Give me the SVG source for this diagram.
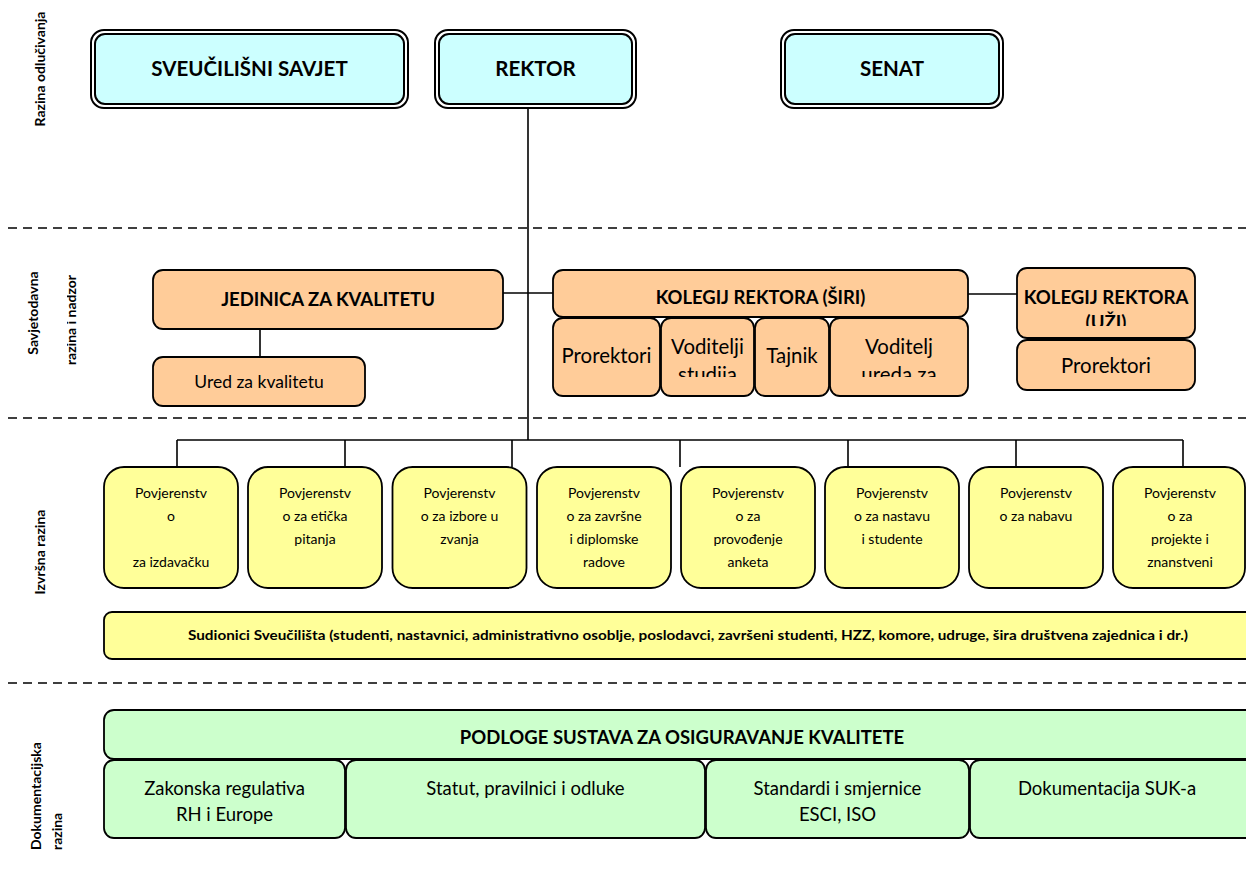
<svg xmlns="http://www.w3.org/2000/svg" width="1246" height="871" viewBox="0 0 1246 871">
  <style>
    .t { font-family: Lato, "Liberation Sans", sans-serif; fill: #000; text-anchor: middle; }
    .b { font-weight: bold; }
    .lbl { font-family: Lato, "Liberation Sans", sans-serif; font-weight: bold; font-size: 14px; fill: #000; }
    .box { stroke: #000; stroke-width: 1.8; }
    .cyan { fill: #CCFFFF; }
    .orange { fill: #FFCC99; }
    .yellow { fill: #FFFF99; }
    .green { fill: #CCFFCC; }
    .line { stroke: #000; stroke-width: 1.6; fill: none; }
    .dash { stroke: #000; stroke-width: 1.6; stroke-dasharray: 9 6; fill: none; }
  </style>
  <defs>
    <clipPath id="clipUzi"><rect x="1017" y="268" width="178" height="58"/></clipPath>
    <clipPath id="clipSub"><rect x="553" y="318" width="415" height="59"/></clipPath>
    <clipPath id="clipNadzor"><rect x="67" y="240" width="40" height="170"/></clipPath>
  </defs>
  <rect width="1246" height="871" fill="#fff"/>

  <!-- level separators -->
  <g id="separators">
    <line class="dash" x1="8" y1="228" x2="1246" y2="228"/>
    <line class="dash" x1="8" y1="418" x2="1246" y2="418"/>
    <line class="dash" x1="8" y1="683" x2="1246" y2="683"/>
  </g>

  <!-- level captions -->
  <g id="level-labels">
    <text class="lbl" text-anchor="middle" transform="translate(45,69) rotate(-90)">Razina odlučivanja</text>
    <text class="lbl" text-anchor="middle" transform="translate(38,313) rotate(-90)" font-size="15">Savjetodavna</text>
    <g clip-path="url(#clipNadzor)">
      <text class="lbl" text-anchor="middle" transform="translate(75.5,320) rotate(-90)" font-size="15">razina  i nadzor</text>
    </g>
    <text class="lbl" text-anchor="middle" transform="translate(45,552) rotate(-90)">Izvršna razina</text>
    <text class="lbl" transform="translate(41,850) rotate(-90)">Dokumentacijska</text>
    <text class="lbl" transform="translate(61.5,850) rotate(-90)">razina</text>
  </g>

  <!-- connectors -->
  <g id="connectors">
    <line class="line" x1="528" y1="108" x2="528" y2="440"/>
    <line class="line" x1="503" y1="293" x2="553" y2="293"/>
    <line class="line" x1="968" y1="294" x2="1017" y2="294"/>
    <line class="line" x1="260" y1="329" x2="260" y2="357"/>
    <line class="line" x1="177" y1="440" x2="1183" y2="440"/>
    <line class="line" x1="177" y1="440" x2="177" y2="467"/>
    <line class="line" x1="345" y1="440" x2="345" y2="467"/>
    <line class="line" x1="512" y1="440" x2="512" y2="467"/>
    <line class="line" x1="680" y1="440" x2="680" y2="467"/>
    <line class="line" x1="848" y1="440" x2="848" y2="467"/>
    <line class="line" x1="1016" y1="440" x2="1016" y2="467"/>
    <line class="line" x1="1183" y1="440" x2="1183" y2="467"/>
  </g>

  <!-- decision level -->
  <g id="sveucilisni-savjet">
    <rect x="91" y="30" width="317" height="78" rx="13" fill="#fff" stroke="#000" stroke-width="2"/>
    <rect class="cyan" x="95" y="34" width="309" height="70" rx="10" stroke="#000" stroke-width="2"/>
    <text class="t b" x="249.5" y="75.5" font-size="20.5">SVEUČILIŠNI SAVJET</text>
  </g>
  <g id="rektor">
    <rect x="435" y="30" width="201" height="78" rx="13" fill="#fff" stroke="#000" stroke-width="2"/>
    <rect class="cyan" x="439" y="34" width="193" height="70" rx="10" stroke="#000" stroke-width="2"/>
    <text class="t b" x="535.5" y="75.5" font-size="20.5">REKTOR</text>
  </g>
  <g id="senat">
    <rect x="781" y="30" width="222" height="78" rx="13" fill="#fff" stroke="#000" stroke-width="2"/>
    <rect class="cyan" x="785" y="34" width="214" height="70" rx="10" stroke="#000" stroke-width="2"/>
    <text class="t b" x="892" y="75.5" font-size="20.5">SENAT</text>
  </g>

  <!-- advisory level -->
  <g id="jedinica">
    <rect class="box orange" x="153" y="270" width="350" height="59" rx="10"/>
    <text class="t b" x="328" y="305.5" font-size="18.5">JEDINICA ZA KVALITETU</text>
  </g>
  <g id="ured">
    <rect class="box orange" x="153" y="357" width="212" height="49" rx="10"/>
    <text class="t" x="259" y="388" font-size="17.5">Ured za kvalitetu</text>
  </g>
  <g id="kolegij-siri">
    <rect class="box orange" x="553" y="270" width="415" height="47" rx="10"/>
    <text class="t b" x="760.5" y="303.5" font-size="18.4">KOLEGIJ REKTORA (ŠIRI)</text>
  </g>
  <g id="kolegij-siri-clanovi">
    <rect class="box orange" x="553" y="318" width="107" height="78" rx="10"/>
    <rect class="box orange" x="661" y="318" width="93" height="78" rx="10"/>
    <rect class="box orange" x="755" y="318" width="74" height="78" rx="10"/>
    <rect class="box orange" x="830" y="318" width="138" height="78" rx="10"/>
    <text class="t" x="606.5" y="363" font-size="20.4">Prorektori</text>
    <text class="t" x="792" y="363" font-size="20.4">Tajnik</text>
    <g clip-path="url(#clipSub)">
      <text class="t" x="707.5" y="354" font-size="20.4">Voditelji</text>
      <text class="t" x="707.5" y="382" font-size="20.4">studija</text>
      <text class="t" x="899" y="354" font-size="20.4">Voditelj</text>
      <text class="t" x="899" y="382" font-size="20.4">ureda za</text>
    </g>
  </g>
  <g id="kolegij-uzi">
    <rect class="box orange" x="1017" y="268" width="178" height="70" rx="10"/>
    <g clip-path="url(#clipUzi)">
      <text class="t b" x="1106" y="304" font-size="18.6">KOLEGIJ REKTORA</text>
      <text class="t b" x="1106" y="328.5" font-size="18.6">(UŽI)</text>
    </g>
  </g>
  <g id="kolegij-uzi-prorektori">
    <rect class="box orange" x="1017" y="340" width="178" height="50" rx="10"/>
    <text class="t" x="1106" y="372.5" font-size="20.4">Prorektori</text>
  </g>

  <!-- executive level -->
  <g id="povjerenstvo-izdavacka">
    <rect class="box yellow" x="104" y="467" width="134" height="121" rx="20"/>
    <text class="t" font-size="14"><tspan x="171" y="498">Povjerenstv</tspan><tspan x="171" y="521">o</tspan><tspan x="171" y="567">za izdavačku</tspan></text>
  </g>
  <g id="povjerenstvo-eticka">
    <rect class="box yellow" x="248" y="467" width="134" height="121" rx="20"/>
    <text class="t" font-size="14"><tspan x="315" y="498">Povjerenstv</tspan><tspan x="315" y="521">o za etička</tspan><tspan x="315" y="544">pitanja</tspan></text>
  </g>
  <g id="povjerenstvo-izbori">
    <rect class="box yellow" x="392.5" y="467" width="134" height="121" rx="20"/>
    <text class="t" font-size="14"><tspan x="459.5" y="498">Povjerenstv</tspan><tspan x="459.5" y="521">o za izbore u</tspan><tspan x="459.5" y="544">zvanja</tspan></text>
  </g>
  <g id="povjerenstvo-zavrsni">
    <rect class="box yellow" x="537" y="467" width="134" height="121" rx="20"/>
    <text class="t" font-size="14"><tspan x="604" y="498">Povjerenstv</tspan><tspan x="604" y="521">o za završne</tspan><tspan x="604" y="544">i diplomske</tspan><tspan x="604" y="567">radove</tspan></text>
  </g>
  <g id="povjerenstvo-ankete">
    <rect class="box yellow" x="681" y="467" width="134" height="121" rx="20"/>
    <text class="t" font-size="14"><tspan x="748" y="498">Povjerenstv</tspan><tspan x="748" y="521">o za</tspan><tspan x="748" y="544">provođenje</tspan><tspan x="748" y="567">anketa</tspan></text>
  </g>
  <g id="povjerenstvo-nastava">
    <rect class="box yellow" x="825" y="467" width="134" height="121" rx="20"/>
    <text class="t" font-size="14"><tspan x="892" y="498">Povjerenstv</tspan><tspan x="892" y="521">o za nastavu</tspan><tspan x="892" y="544">i studente</tspan></text>
  </g>
  <g id="povjerenstvo-nabava">
    <rect class="box yellow" x="969" y="467" width="134" height="121" rx="20"/>
    <text class="t" font-size="14"><tspan x="1036" y="498">Povjerenstv</tspan><tspan x="1036" y="521">o za nabavu</tspan></text>
  </g>
  <g id="povjerenstvo-projekti">
    <rect class="box yellow" x="1113" y="467" width="132" height="121" rx="20"/>
    <text class="t" font-size="14"><tspan x="1180" y="498">Povjerenstv</tspan><tspan x="1180" y="521">o za</tspan><tspan x="1180" y="544">projekte i</tspan><tspan x="1180" y="567">znanstveni</tspan></text>
  </g>
  <g id="sudionici">
    <rect class="box yellow" x="104" y="612" width="1160" height="47" rx="8"/>
    <text class="t b" x="688" y="639.5" font-size="12.5" textLength="1000" lengthAdjust="spacingAndGlyphs">Sudionici Sveučilišta (studenti, nastavnici, administrativno osoblje, poslodavci, završeni studenti, HZZ, komore, udruge, šira društvena zajednica i dr.)</text>
  </g>

  <!-- documentation level -->
  <g id="podloge">
    <rect class="box green" x="104" y="710" width="1160" height="49" rx="10"/>
    <text class="t b" x="682" y="743.5" font-size="18.5">PODLOGE SUSTAVA ZA OSIGURAVANJE KVALITETE</text>
  </g>
  <g id="zakonska-regulativa">
    <rect class="box green" x="104" y="760" width="241" height="78" rx="10"/>
    <text class="t" font-size="18.5"><tspan x="224.5" y="794.5">Zakonska regulativa</tspan><tspan x="224.5" y="820.5">RH i Europe</tspan></text>
  </g>
  <g id="statut">
    <rect class="box green" x="346" y="760" width="359" height="78" rx="10"/>
    <text class="t" x="525.5" y="794.5" font-size="18.5">Statut, pravilnici i odluke</text>
  </g>
  <g id="standardi">
    <rect class="box green" x="706" y="760" width="263" height="78" rx="10"/>
    <text class="t" font-size="18.5"><tspan x="837.5" y="794.5">Standardi i smjernice</tspan><tspan x="837.5" y="820.5">ESCI, ISO</tspan></text>
  </g>
  <g id="dokumentacija">
    <rect class="box green" x="970" y="760" width="294" height="78" rx="10"/>
    <text class="t" x="1107" y="794.5" font-size="18.5">Dokumentacija SUK-a</text>
  </g>
</svg>
